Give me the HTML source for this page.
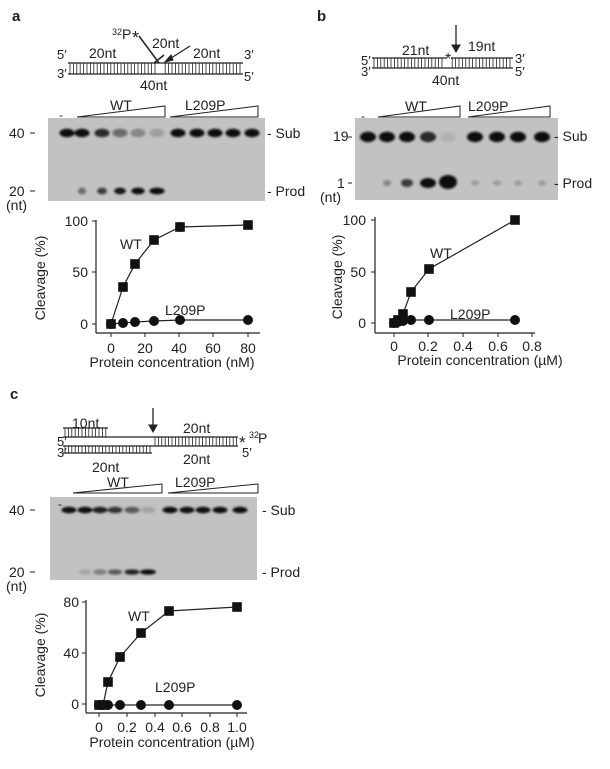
<!DOCTYPE html>
<html><head><meta charset="utf-8"><style>
html,body{margin:0;padding:0;background:#fff}
svg{display:block}
text{font-family:"Liberation Sans",Arial,sans-serif;fill:#222}
</style></head><body>
<svg id="s" width="610" height="769" viewBox="0 0 610 769" xmlns="http://www.w3.org/2000/svg">
<defs>
<filter id="bl" x="-50%" y="-100%" width="200%" height="300%"><feGaussianBlur stdDeviation="1"/></filter>
</defs>
<g id="shapes" stroke="#222" fill="none" stroke-width="1"></g>
<g id="bands" filter="url(#bl)" fill="#111"></g>
<g id="marks"></g>

<!-- ===== Panel a ===== -->
<text x="12" y="21" font-size="15" font-weight="bold">a</text>
<text x="57" y="59" font-size="13">5′</text>
<text x="57" y="78" font-size="13">3′</text>
<text x="244" y="59" font-size="13">3′</text>
<text x="244" y="81" font-size="13">5′</text>
<text x="89" y="58" font-size="14">20nt</text>
<text x="112" y="35" font-size="9">32</text><text x="122" y="39" font-size="14">P</text><text x="132" y="44" font-size="18">*</text>
<text x="152" y="48" font-size="14">20nt</text>
<text x="193" y="58" font-size="14">20nt</text>
<text x="140" y="90" font-size="14">40nt</text>
<text x="59" y="119" font-size="12">-</text>
<text x="110" y="110" font-size="14">WT</text>
<text x="185" y="110" font-size="14">L209P</text>
<text x="9" y="138" font-size="14">40</text>
<text x="9" y="196" font-size="14">20</text>
<text x="6" y="210" font-size="14">(nt)</text>
<text x="267" y="138" font-size="14">- Sub</text>
<text x="267" y="196" font-size="14">- Prod</text>
<text x="88" y="226" font-size="14" text-anchor="end">100</text>
<text x="88" y="277" font-size="14" text-anchor="end">50</text>
<text x="88" y="329" font-size="14" text-anchor="end">0</text>
<text x="111" y="353" font-size="14" text-anchor="middle">0</text>
<text x="145" y="353" font-size="14" text-anchor="middle">20</text>
<text x="179" y="353" font-size="14" text-anchor="middle">40</text>
<text x="213" y="353" font-size="14" text-anchor="middle">60</text>
<text x="248" y="353" font-size="14" text-anchor="middle">80</text>
<text x="172" y="367" font-size="14" text-anchor="middle">Protein concentration (nM)</text>
<text transform="translate(45,278) rotate(-90)" font-size="14" text-anchor="middle">Cleavage  (%)</text>
<text x="120" y="249" font-size="14">WT</text>
<text x="165" y="315" font-size="14">L209P</text>

<!-- ===== Panel b ===== -->
<text x="317" y="21" font-size="15" font-weight="bold">b</text>
<text x="361" y="65" font-size="13">5′</text>
<text x="361" y="76" font-size="13">3′</text>
<text x="515" y="63" font-size="13">3′</text>
<text x="515" y="76" font-size="13">5′</text>
<text x="402" y="55" font-size="14">21nt</text>
<text x="468" y="51" font-size="14">19nt</text>
<text x="445" y="64" font-size="16">*</text>
<text x="432" y="85" font-size="14">40nt</text>
<text x="361" y="120" font-size="12">-</text>
<text x="405" y="111" font-size="14">WT</text>
<text x="468" y="111" font-size="14">L209P</text>
<text x="333" y="141" font-size="14">19</text>
<text x="337" y="188" font-size="14">1</text>
<text x="320" y="202" font-size="14">(nt)</text>
<text x="554" y="141" font-size="14">- Sub</text>
<text x="554" y="188" font-size="14">- Prod</text>
<text x="366" y="225" font-size="14" text-anchor="end">100</text>
<text x="366" y="277" font-size="14" text-anchor="end">50</text>
<text x="366" y="328" font-size="14" text-anchor="end">0</text>
<text x="394" y="351" font-size="14" text-anchor="middle">0</text>
<text x="428" y="351" font-size="14" text-anchor="middle">0.2</text>
<text x="463" y="351" font-size="14" text-anchor="middle">0.4</text>
<text x="498" y="351" font-size="14" text-anchor="middle">0.6</text>
<text x="532" y="351" font-size="14" text-anchor="middle">0.8</text>
<text x="480" y="365" font-size="14" text-anchor="middle">Protein concentration (µM)</text>
<text transform="translate(342,277) rotate(-90)" font-size="14" text-anchor="middle">Cleavage  (%)</text>
<text x="430" y="258" font-size="14">WT</text>
<text x="450" y="319" font-size="14">L209P</text>

<!-- ===== Panel c ===== -->
<text x="10" y="399" font-size="15" font-weight="bold">c</text>
<text x="57" y="446" font-size="13">5′</text>
<text x="57" y="457" font-size="13">3′</text>
<text x="242" y="457" font-size="13">5′</text>
<text x="72" y="428" font-size="14">10nt</text>
<text x="183" y="433" font-size="14">20nt</text>
<text x="239" y="448" font-size="17">*</text><text x="249" y="438" font-size="9">32</text><text x="258" y="443" font-size="14">P</text>
<text x="92" y="472" font-size="14">20nt</text>
<text x="183" y="464" font-size="14">20nt</text>
<text x="58" y="508" font-size="12">-</text>
<text x="107" y="487" font-size="14">WT</text>
<text x="175" y="487" font-size="14">L209P</text>
<text x="9" y="515" font-size="14">40</text>
<text x="9" y="577" font-size="14">20</text>
<text x="6" y="591" font-size="14">(nt)</text>
<text x="262" y="515" font-size="14">- Sub</text>
<text x="262" y="577" font-size="14">- Prod</text>
<text x="79" y="607" font-size="14" text-anchor="end">80</text>
<text x="79" y="658" font-size="14" text-anchor="end">40</text>
<text x="79" y="709" font-size="14" text-anchor="end">0</text>
<text x="99" y="732" font-size="14" text-anchor="middle">0</text>
<text x="127" y="732" font-size="14" text-anchor="middle">0.2</text>
<text x="155" y="732" font-size="14" text-anchor="middle">0.4</text>
<text x="182" y="732" font-size="14" text-anchor="middle">0.6</text>
<text x="210" y="732" font-size="14" text-anchor="middle">0.8</text>
<text x="237" y="732" font-size="14" text-anchor="middle">1.0</text>
<text x="172" y="747" font-size="14" text-anchor="middle">Protein concentration (µM)</text>
<text transform="translate(45,655) rotate(-90)" font-size="14" text-anchor="middle">Cleavage  (%)</text>
<text x="128" y="621" font-size="14">WT</text>
<text x="155" y="692" font-size="14">L209P</text>
</svg>
<script>
var NS="http://www.w3.org/2000/svg";
function el(p,t,a){var e=document.createElementNS(NS,t);for(var k in a)e.setAttribute(k,a[k]);document.getElementById(p).appendChild(e);return e;}
function L(x1,y1,x2,y2,w){el("shapes","line",{x1:x1,y1:y1,x2:x2,y2:y2,"stroke-width":w||1});}
function ticks(x1,x2,y1,y2,step,skip){for(var x=x1;x<=x2;x+=step){if(skip&&skip(x))continue;L(x,y1,x,y2,0.8);}}
function poly(pts){el("shapes","polyline",{points:pts.map(p=>p.join(",")).join(" "),"stroke-width":1.2});}
function sq(pts){pts.forEach(p=>el("marks","rect",{x:p[0]-4.8,y:p[1]-4.8,width:9.6,height:9.6,fill:"#111"}));}
function ci(pts){pts.forEach(p=>el("marks","circle",{cx:p[0],cy:p[1],r:5,fill:"#111"}));}
function tri(x1,x2,yb,yt){el("shapes","polygon",{points:x1+","+yb+" "+x2+","+yb+" "+x2+","+yt,"stroke-width":1});}
function gel(x,y,w,h){el("shapes","rect",{x:x,y:y,width:w,height:h,fill:"#c2c2c2",stroke:"none"});}
function band(x,y,rx,ry,op){el("bands","ellipse",{cx:x,cy:y,rx:rx,ry:ry,opacity:op});}

/* Panel a diagram */
L(68,63,243,63,1.3);L(68,74,243,74,1.3);ticks(70,242,63,74,3.4,x=>x>156&&x<164);
L(139,36,159,63,1.5);L(154,63,164,55,1.5);
L(190,46,168,60,1.3);el("shapes","polygon",{points:"165,62 171,55 173,60",fill:"#222"});
tri(77,165,117,106);tri(170,258,117,106);
gel(48,118,217,83);
[[67,1],[82,1],[102,.85],[120,.5],[138,.3],[157,.18],[178,1],[197,1],[215,1],[233,1],[252,1]].forEach(b=>band(b[0],133,7.5,4.2,b[1]));
[[82,.5],[102,.75],[120,.95],[138,1],[157,1]].forEach((b,i)=>band(b[0],191,4+i*0.9,3.4,b[1]));
L(30,133,35,133);L(30,191,35,191);
/* Panel a chart */
L(96,220,96,333,1.2);L(96,333,260,333,1.2);
[221,272,324].forEach(y=>L(92,y,96,y));[111,145,179,213,248].forEach(x=>L(x,333,x,337));
var aw=[[111,324],[123,287],[135,264],[154,240],[180,227],[248,225]];
var al=[[111,324],[123,323],[135,322],[154,321],[180,320],[248,320]];
poly(aw);poly(al);L(180,222,180,232);L(154,236,154,244);sq(aw);ci(al);

/* Panel b diagram */
L(372,58,447,58,1.3);L(451,58,513,58,1.3);L(372,68,513,68,1.3);ticks(374,512,58,68,3.4,x=>x>445&&x<452);
L(456,25,456,46,1.3);el("shapes","polygon",{points:"452,45 460,45 456,52",fill:"#222"});
tri(378,460,117,106);tri(468,550,117,106);
gel(355,118,203,82);
[[368,1],[387,1],[407,1],[428,.85],[448,.08],[475,1],[497,1],[518,1],[542,1]].forEach(b=>band(b[0],137,8,5.2,b[1]));
[[387,.35],[407,.75],[428,1]].forEach((b,i)=>band(b[0],183,4+i*2,3+i,b[1]));band(448,182,9,7,1);
[475,497,518,542].forEach(x=>band(x,183,4,2.5,.2));
L(348,137,352,137);L(348,183,352,183);
/* Panel b chart */
L(375,217,375,333,1.2);L(375,333,535,333,1.2);
[220,272,323].forEach(y=>L(371,y,375,y));[394,428,463,498,532].forEach(x=>L(x,333,x,337));
var bw=[[394,323],[398,320],[403,314],[411,292],[429,269],[515,220]];
var bl=[[394,323],[398,322],[403,321],[411,320],[429,320],[515,320]];
poly(bw);poly(bl);sq(bw);ci(bl);

/* Panel c diagram */
L(63,428,108,428,1.3);ticks(65,107,428,437,3.4);
L(63,437,238,437,1.3);L(63,446,238,446,1.3);ticks(155,237,437,446,3.4);
ticks(65,151,446,453,3.4);L(63,453,152,453,1.3);
L(153,408,153,426,1.3);el("shapes","polygon",{points:"149,425 157,425 153,432",fill:"#222"});
tri(73,162,493,484);tri(168,258,493,484);
gel(50,497,207,83);
[[69,1],[85,1],[100,.9],[115,.8],[132,.6],[148,.15],[170,1],[187,1],[203,1],[220,1],[240,1]].forEach(b=>band(b[0],510,7.5,3.2,b[1]));
[[85,.15],[100,.4],[115,.6],[132,.9],[148,1]].forEach((b,i)=>band(b[0],572,6+i*0.5,2.6,b[1]));
L(30,510,35,510);L(30,572,35,572);
/* Panel c chart */
L(86,600,86,713,1.2);L(86,713,247,713,1.2);
[602,653,704].forEach(y=>L(82,y,86,y));[99,127,155,182,210,237].forEach(x=>L(x,713,x,717));
var cw=[[99,705],[103,705],[108,682],[120,657],[141,633],[169,611],[237,607]];
var cl=[[99,705],[103,705],[108,705],[120,705],[141,705],[169,705],[237,705]];
poly(cw);poly(cl);sq(cw);ci(cl);
</script>
</body></html>
